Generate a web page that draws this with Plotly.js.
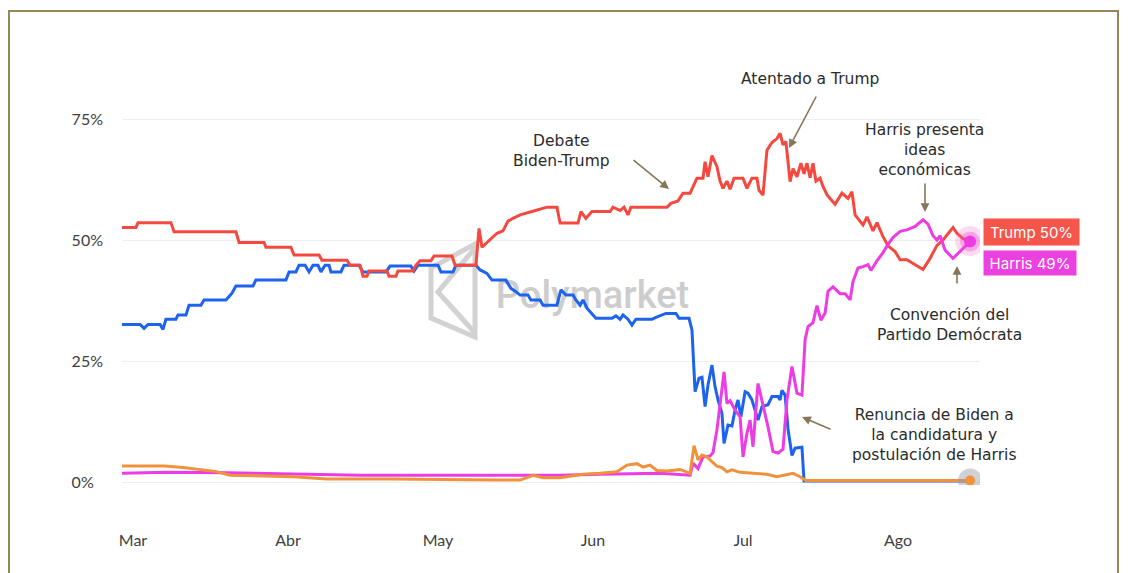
<!DOCTYPE html>
<html><head><meta charset="utf-8">
<script src="https://cdn.plot.ly/plotly-3.0.1.min.js"></script>
<style>
html,body{margin:0;padding:0;background:#fff;width:1130px;height:573px;overflow:hidden}
#chart{position:absolute;left:0;top:0;width:1130px;height:573px}
#frame{position:absolute;left:8px;top:10px;width:1111px;height:700px;border:2px solid #958858;box-sizing:border-box;pointer-events:none}
</style></head><body>
<div id="chart"></div><div id="frame"></div>
<script>
// ---------- data ----------
const monthTicks = ['2024-03-01','2024-04-01','2024-05-01','2024-06-01','2024-07-01','2024-08-01'];
const monthLabels = ['Mar','Abr','May','Jun','Jul','Ago'];
const pctTicks = [0, 25, 50, 75];
const pctLabels = ['0%\u2007', '25%', '50%', '75%'];

const trumpDates = [
 '02-27 19','03-01 14','03-02 00','03-08 14','03-09 05','03-21 14','03-22 05','03-27 05','03-27 14','04-01 14',
 '04-02 05','04-07 05','04-07 19','04-12 19','04-13 10','04-15 10','04-16 00','04-16 19','04-17 05','04-20 19',
 '04-21 05','04-22 14','04-23 00','04-26 00','04-26 14','04-27 10','04-29 14','04-30 05','05-03 19','05-04 10',
 '05-08 14','05-09 05','05-09 19','05-10 19','05-11 19','05-12 19','05-14 00','05-15 00','05-16 00','05-17 10',
 '05-19 19','05-22 19','05-24 19','05-25 10','05-29 00','05-29 14','05-30 14','05-31 19','06-04 10','06-05 00',
 '06-06 10','06-07 05','06-08 00','06-08 14','06-15 19','06-16 14','06-18 00','06-19 00','06-20 10','06-21 00',
 '06-21 19','06-23 00','06-23 10','06-24 00','06-24 19','06-25 19','06-26 10','06-27 00','06-27 19','06-28 10',
 '06-29 05','07-01 00','07-01 19','07-02 19','07-03 19','07-04 05','07-05 00','07-05 19','07-06 19','07-07 19',
 '07-08 10','07-09 00','07-09 14','07-10 10','07-11 00','07-11 19','07-12 14','07-13 05','07-13 19','07-14 10',
 '07-15 00','07-15 14','07-16 10','07-17 00','07-17 19','07-18 10','07-19 10','07-20 19','07-22 00','07-22 19',
 '07-23 10','07-25 00','07-25 19','07-27 00','07-27 19','07-29 00','07-30 00','07-31 10','08-01 10','08-02 19',
 '08-04 00','08-06 00','08-07 10','08-08 19','08-10 00','08-10 19','08-12 00','08-12 19','08-14 00','08-15 10'];
const trumpPct = [
 52.7,52.7,53.7,53.7,51.8,51.8,49.6,49.6,48.6,48.6,
 47.0,47.0,45.9,45.9,44.9,44.9,42.6,42.6,43.7,43.7,
 42.6,42.6,43.7,43.7,44.9,45.8,45.8,46.8,46.8,44.9,
 44.9,52.5,48.6,49.5,50.5,51.5,52.0,54.0,54.6,55.3,
 56.0,56.9,56.9,53.6,53.6,56.0,54.6,56.0,56.0,56.9,
 56.2,56.9,55.3,56.9,56.9,57.7,58.2,59.8,59.8,61.1,
 62.9,62.9,66.3,63.2,67.6,65.3,62.3,60.8,62.3,60.6,
 62.9,62.9,60.8,62.9,62.9,60.4,59.4,68.7,70.3,71.1,
 72.2,69.8,70.5,62.2,64.9,63.2,66.0,63.8,66.0,63.0,
 66.0,62.3,62.9,61.2,59.5,58.7,57.5,59.8,58.7,60.1,
 55.3,53.2,54.9,52.0,53.7,50.8,48.9,47.7,46.0,46.0,
 45.3,44.0,46.3,49.0,50.1,51.1,52.7,51.5,50.4,49.9];

const bidenDates = [
 '02-27 19','03-02 10','03-03 05','03-04 00','03-06 10','03-07 00','03-07 14','03-09 14','03-10 00','03-11 14',
 '03-12 05','03-14 14','03-15 05','03-19 14','03-20 05','03-20 19','03-21 14','03-25 00','03-25 14','03-31 14',
 '04-01 05','04-02 14','04-03 05','04-04 10','04-05 05','04-06 00','04-07 00','04-07 14','04-08 10','04-09 05',
 '04-09 14','04-11 14','04-12 05','04-15 05','04-16 00','04-20 14','04-21 10','04-25 14','04-26 05','04-27 00',
 '05-01 00','05-01 14','05-04 00','05-04 14','05-08 14','05-09 10','05-10 19','05-11 19','05-14 14','05-15 14',
 '05-16 14','05-17 10','05-19 00','05-19 14','05-21 10','05-22 00','05-24 19','05-25 14','05-26 14','05-28 00',
 '05-28 14','05-29 10','05-30 00','05-30 19','06-01 14','06-04 19','06-05 14','06-06 10','06-07 00','06-08 00',
 '06-08 19','06-09 14','06-12 19','06-13 14','06-15 14','06-17 14','06-18 05','06-20 05','06-20 19','06-21 10',
 '06-22 05','06-22 19','06-23 10','06-24 00','06-24 19','06-25 10','06-26 00','06-26 19','06-27 05','06-28 00',
 '06-28 19','06-29 10','06-30 00','06-30 14','07-01 10','07-02 00','07-02 19','07-03 10','07-04 00','07-04 19',
 '07-06 00','07-06 19','07-08 00','07-08 10','07-08 19','07-09 10','07-10 00','07-10 19','07-11 10','07-12 19',
 '07-13 05','08-15 10'];
const bidenPct = [
 32.6,32.6,31.8,32.6,32.6,31.6,33.7,33.7,34.6,34.6,
 36.6,36.6,37.7,37.7,38.4,39.1,40.6,40.6,41.8,41.8,
 43.5,43.5,44.9,44.9,43.5,44.9,44.9,43.5,44.9,44.9,
 43.5,43.5,44.9,44.9,43.5,43.5,44.7,44.7,43.7,44.9,
 44.9,43.5,43.5,44.9,44.9,43.9,43.2,41.8,41.8,40.1,
 39.4,38.7,38.7,37.7,37.7,36.6,36.6,39.8,38.7,38.7,
 37.7,36.6,37.7,36.0,33.9,33.9,34.4,33.7,34.6,33.7,
 32.5,33.7,33.7,34.1,34.9,34.9,33.9,33.9,31.5,18.7,
 21.5,21.7,15.6,20.1,24.2,19.7,17.0,14.2,8.0,11.8,
 11.6,14.9,17.0,13.5,18.7,18.4,17.0,14.9,12.8,15.6,
 16.0,17.7,17.7,17.0,19.0,18.0,11.0,5.5,7.0,7.2,
 0.2,0.2];

const harrisDates = [
 '02-27 19','03-07 19','03-19 19','04-02 00','04-15 10','05-05 10','05-18 19','05-25 10','06-02 10','06-10 10',
 '06-14 10','06-20 10','06-21 00','06-22 00','06-23 00','06-24 10','06-25 00','06-25 19','06-26 10','06-27 05',
 '06-27 19','06-28 10','06-29 10','06-30 10','07-01 00','07-01 19','07-02 10','07-03 00','07-04 00','07-04 19',
 '07-05 10','07-06 00','07-07 00','07-08 00','07-09 00','07-09 19','07-10 19','07-11 10','07-11 19','07-12 19',
 '07-13 10','07-14 00','07-15 00','07-15 19','07-16 14','07-17 10','07-18 00','07-19 00','07-20 10','07-21 10',
 '07-22 10','07-23 00','07-24 00','07-25 00','07-26 00','07-26 14','07-27 19','07-29 00','07-30 00','07-31 00',
 '08-01 10','08-02 19','08-04 10','08-06 00','08-07 00','08-08 00','08-08 19','08-09 10','08-10 10','08-12 00',
 '08-13 00','08-14 10','08-15 10'];
const harrisPct = [
 1.8,2.0,1.9,1.7,1.4,1.4,1.3,1.4,1.6,1.7,
 1.8,1.4,3.9,2.8,5.2,5.4,6.1,10.8,15.6,22.8,
 16.3,16.8,14.9,13.5,5.2,10.1,12.8,7.3,20.4,17.0,
 14.2,11.4,6.3,6.0,6.8,17.0,23.9,20.4,18.4,18.0,
 29.4,32.2,33.0,36.5,33.5,35.0,39.5,40.4,39.0,39.0,
 37.7,41.5,44.3,44.6,45.0,43.8,45.8,47.5,49.2,50.6,
 51.9,52.2,52.9,54.3,53.4,51.0,50.1,51.0,48.0,46.3,
 47.3,48.8,49.8];

const otherDates = [
 '02-27 19','03-07 10','03-11 00','03-14 10','03-17 10','03-20 10','03-26 10','04-02 00','04-08 19','04-22 00',
 '05-12 00','05-17 10','05-20 00','05-22 00','05-25 10','05-30 00','06-02 10','06-05 19','06-07 19','06-09 19',
 '06-11 00','06-12 10','06-13 19','06-15 19','06-18 10','06-20 10','06-21 05','06-22 00','06-22 19','06-23 19',
 '06-24 19','06-25 19','06-26 19','06-27 19','06-28 19','06-30 10','07-03 00','07-05 19','07-07 19','07-09 10',
 '07-11 00','07-12 10','07-13 14','08-15 10'];
const otherPct = [
 3.3,3.3,3.0,2.5,2.2,1.4,1.3,1.1,0.6,0.6,
 0.4,0.4,1.4,0.9,0.9,1.6,1.8,2.1,3.5,3.8,
 3.1,3.5,2.4,2.3,2.6,1.8,7.5,4.6,5.6,5.2,
 4.2,3.3,3.0,2.1,2.5,2.0,1.8,1.6,1.1,1.4,
 1.8,1.1,0.3,0.3];

const endLabels = ['Trump 50%', 'Harris 49%'];
const noteTexts = [
 'Debate<br>Biden-Trump',
 'Atentado a Trump',
 'Harris presenta<br>ideas<br>económicas',
 'Convención del<br>Partido Demócrata',
 'Renuncia de Biden a<br>la candidatura y<br>postulación de Harris'];

// ---------- styling / layout ----------
const COL = {trump:'#f5493f', biden:'#1d63ee', harris:'#ee3ce4', other:'#f0913c'};
const toDate = s => '2024-' + s.slice(0,5) + ' ' + s.slice(6) + ':00';
const P = {l:122, r:980, t:100, b:485};
const px = x => (x - P.l) / (P.r - P.l);
const py = y => (P.b - y) / (P.b - P.t);

function lineTrace(dates, vals, color) {
  return {x: dates.map(toDate), y: vals, type:'scatter', mode:'lines',
    line:{color:color, width:3}, hoverinfo:'skip', showlegend:false};
}
function endMarker(dates, vals, size, color) {
  return {x:[toDate(dates[dates.length-1])], y:[vals[vals.length-1]], type:'scatter', mode:'markers',
    marker:{size:size, color:color, line:{width:0}}, hoverinfo:'skip', showlegend:false};
}

const data = [
  lineTrace(bidenDates, bidenPct, COL.biden),
  lineTrace(trumpDates, trumpPct, COL.trump),
  lineTrace(harrisDates, harrisPct, COL.harris),
  lineTrace(otherDates, otherPct, COL.other),
  endMarker(otherDates, otherPct, 24, 'rgba(150,150,165,0.45)'),
  endMarker(otherDates, otherPct, 10, COL.other),
  endMarker(trumpDates, trumpPct, 30, 'rgba(240,90,190,0.22)'),
  endMarker(harrisDates, harrisPct, 20, 'rgba(240,70,210,0.35)'),
  endMarker(harrisDates, harrisPct, 12, COL.harris)
];

const noteFont = {family:'"DejaVu Sans", Inter, sans-serif', size:15.5, color:'#2b2b2b'};
const notePos = [[561,151],[810,79],[924,150],[949,325],[934,435]];
const arrows = [[669,189,-37,-30],[789,148,28,-53],[925,212,0,-30],[957,266,0,19],[802,417,30,13]];

const annotations = [];
noteTexts.forEach((t,i) => annotations.push({
  xref:'paper', yref:'paper', x:px(notePos[i][0]), y:py(notePos[i][1]),
  text:t, showarrow:false, xanchor:'center', yanchor:'middle', align:'center', font:noteFont}));
arrows.forEach(a => annotations.push({
  xref:'paper', yref:'paper', x:px(a[0]), y:py(a[1]), ax:a[2], ay:a[3], text:'',
  showarrow:true, arrowhead:2, arrowsize:1.1, arrowwidth:1.6, arrowcolor:'#86775a'}));
annotations.push({xref:'paper', yref:'paper', x:px(983), y:py(232), xanchor:'left', yanchor:'middle',
  text:endLabels[0], showarrow:false, bgcolor:'#f5554b', borderpad:4, width:87, height:18,
  font:{family:'Inter, sans-serif', size:15, color:'#ffffff'}});
annotations.push({xref:'paper', yref:'paper', x:px(983), y:py(263), xanchor:'left', yanchor:'middle',
  text:endLabels[1], showarrow:false, bgcolor:'#eb41e1', borderpad:4, width:84, height:16,
  font:{family:'Inter, sans-serif', size:15, color:'#ffffff'}});

const shapes = [
  {type:'rect', xref:'paper', yref:'paper', x0:px(490), x1:px(695), y0:py(325), y1:py(259),
   layer:'below', line:{width:0}, fillcolor:'rgba(0,0,0,0)',
   label:{text:'Polymarket', textposition:'middle center',
     font:{family:'Roboto, sans-serif', size:38, color:'#cdcdcd', weight:500}}},
  {type:'path', xref:'paper', yref:'paper', layer:'below', line:{color:'#d2d2d2', width:5},
   path:`M ${px(431)},${py(268)} L ${px(475)},${py(244)} L ${px(475)},${py(337)} L ${px(431)},${py(318)} Z`},
  {type:'path', xref:'paper', yref:'paper', layer:'below', line:{color:'#d2d2d2', width:5},
   path:`M ${px(475)},${py(248)} L ${px(438)},${py(292)} L ${px(475)},${py(333)}`}
];

const tickFont = {family:'Lato, "Open Sans", sans-serif', size:16, color:'#404040'};
const layout = {
  width:1130, height:573,
  margin:{l:P.l, r:1130-P.r, t:P.t, b:573-P.b},
  paper_bgcolor:'#ffffff', plot_bgcolor:'#ffffff',
  showlegend:false,
  xaxis:{type:'date', range:['2024-02-27 19:12','2024-08-17 09:36'],
    tickmode:'array', tickvals:monthTicks, ticktext:monthLabels,
    showgrid:false, zeroline:false, showline:false, ticks:'',
    ticklabelstandoff:44, tickfont:tickFont, fixedrange:true},
  yaxis:{range:[-0.62, 79.09], tickmode:'array', tickvals:pctTicks, ticktext:pctLabels,
    showgrid:true, gridcolor:'#eeeeee', gridwidth:1, zeroline:false, showline:false, ticks:'',
    ticklabelstandoff:18, tickfont:tickFont, fixedrange:true},
  annotations:annotations,
  shapes:shapes
};

Plotly.newPlot('chart', data, layout, {displayModeBar:false, staticPlot:true});
</script></body></html>
